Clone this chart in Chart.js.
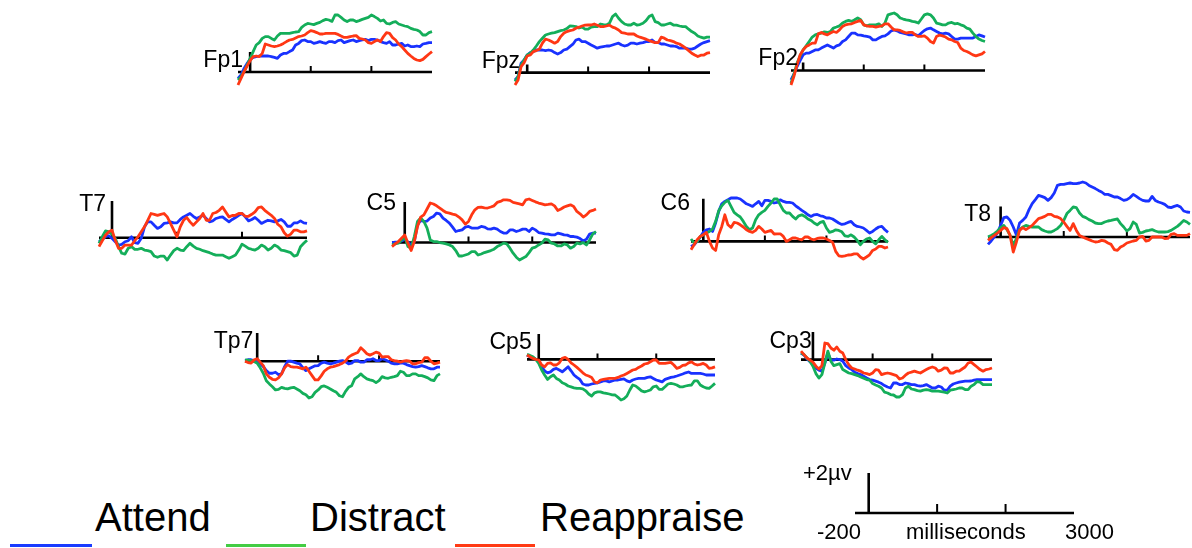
<!DOCTYPE html>
<html>
<head>
<meta charset="utf-8">
<script src="https://cdn.jsdelivr.net/npm/chart.js@4.4.1/dist/chart.umd.min.js"></script>
<style>
  body { margin: 0; width: 1192px; height: 548px; background: #fff; position: relative; overflow: hidden;
         font-family: "Liberation Sans", Arial, Helvetica, sans-serif; color: #000; }
  canvas { position: absolute; }
  .txt { position: absolute; white-space: nowrap; line-height: 1; }
  .swatch { position: absolute; height: 3px; }
</style>
</head>
<body>
<script>
// sample times (ms), one value every 50 ms
const times = [-200,-150,-100,-50,0,50,100,150,200,250,300,350,400,450,500,550,600,650,700,750,800,850,900,950,1000,1050,1100,1150,1200,1250,1300,1350,1400,1450,1500,1550,1600,1650,1700,1750,1800,1850,1900,1950,2000,2050,2100,2150,2200,2250,2300,2350,2400,2450,2500,2550,2600,2650,2700,2750,2800,2850,2900,2950,3000];
const tickTimes = [1000, 2000];

// grand-average amplitudes (µV) per electrode and condition
const fp1Attend     = [-0.32,-0.15,0.18,0.43,0.63,0.73,0.77,0.8,0.8,0.8,0.8,0.77,0.73,0.68,0.85,0.93,0.93,1.02,1.1,1.35,1.43,1.57,1.6,1.52,1.52,1.43,1.47,1.52,1.47,1.43,1.52,1.52,1.47,1.57,1.6,1.47,1.52,1.57,1.6,1.52,1.57,1.6,1.63,1.57,1.63,1.63,1.6,1.52,1.47,1.43,1.52,1.35,1.35,1.4,1.43,1.3,1.35,1.27,1.27,1.3,1.27,1.4,1.43,1.47,1.47];
const fp1Distract   = [-0.4,-0.23,0.02,0.35,0.68,1.02,1.35,1.47,1.68,1.77,1.77,1.68,1.6,1.8,1.93,1.93,1.93,1.93,1.97,2.0,2.02,2.23,2.35,2.43,2.4,2.37,2.43,2.48,2.57,2.63,2.6,2.53,2.85,2.85,2.73,2.6,2.52,2.6,2.6,2.52,2.57,2.63,2.68,2.73,2.85,2.77,2.68,2.55,2.6,2.43,2.4,2.48,2.52,2.4,2.35,2.3,2.27,2.18,2.13,2.1,2.02,1.85,1.85,1.97,2.02];
const fp1Reappraise = [-0.65,-0.32,0.02,0.3,0.57,0.77,0.8,0.77,0.93,1.4,1.35,1.3,1.27,1.3,1.35,1.43,1.52,1.6,1.63,1.7,1.77,1.8,1.85,1.97,2.07,2.03,1.97,1.9,1.9,1.93,1.93,1.93,1.93,1.88,1.8,1.73,1.73,1.77,1.8,1.82,1.68,1.65,1.6,1.47,1.43,1.52,1.6,1.52,1.77,1.97,1.93,1.72,1.6,1.4,1.27,1.1,0.93,0.8,0.68,0.6,0.57,0.63,0.77,0.9,1.02];

const fpzAttend     = [-0.37,-0.2,0.47,0.63,0.88,1.0,1.05,1.13,1.13,1.13,1.1,1.13,1.1,1.0,0.93,1.0,1.13,1.17,1.3,1.42,1.63,1.67,1.55,1.55,1.47,1.38,1.3,1.22,1.27,1.3,1.33,1.33,1.38,1.43,1.47,1.38,1.33,1.37,1.47,1.47,1.43,1.47,1.5,1.55,1.55,1.63,1.5,1.5,1.43,1.43,1.38,1.33,1.33,1.3,1.22,1.22,1.22,1.17,1.17,1.22,1.33,1.43,1.5,1.55,1.6];
const fpzDistract   = [-0.45,-0.2,0.38,0.63,0.88,0.97,1.13,1.33,1.55,1.72,1.88,1.93,1.97,2.0,2.05,2.1,2.13,2.2,2.33,2.32,2.3,2.23,2.27,2.17,2.17,2.27,2.3,2.3,2.43,2.4,2.38,2.47,2.8,2.93,2.72,2.55,2.43,2.38,2.38,2.47,2.38,2.4,2.47,2.6,2.8,2.88,2.55,2.5,2.38,2.38,2.43,2.47,2.38,2.37,2.33,2.3,2.3,2.17,2.05,1.97,1.83,1.77,1.72,1.77,1.77];
const fpzReappraise = [-0.62,-0.37,0.3,0.5,0.83,0.88,1.05,1.1,1.17,1.47,1.67,1.63,1.55,1.47,1.55,1.8,1.97,2.05,2.1,2.13,2.22,2.27,2.33,2.37,2.38,2.38,2.43,2.37,2.3,2.3,2.33,2.37,2.27,2.22,2.13,2.0,1.97,1.93,1.93,1.93,1.83,1.77,1.72,1.67,1.6,1.55,1.5,1.5,1.77,1.72,1.63,1.6,1.55,1.47,1.43,1.33,1.22,1.1,0.97,0.88,0.8,0.87,0.88,0.97,1.0];

const fp2Attend     = [-0.47,-0.17,0.2,0.5,0.78,0.87,0.87,0.95,1.03,1.03,1.12,1.2,1.28,1.2,1.12,1.23,1.28,1.45,1.53,1.7,1.87,1.87,1.78,1.77,1.73,1.7,1.67,1.53,1.53,1.62,1.7,1.73,1.83,1.97,2.03,1.98,1.9,1.87,1.83,1.78,1.78,1.8,1.73,1.87,2.0,2.08,2.12,2.03,1.95,1.87,1.83,1.87,1.83,1.7,1.57,1.57,1.62,1.62,1.62,1.62,1.62,1.7,1.78,1.73,1.67];
const fp2Distract   = [-0.63,-0.17,0.37,0.73,1.03,1.23,1.45,1.67,1.78,1.83,1.87,1.93,1.9,1.95,2.12,2.17,2.23,2.37,2.45,2.5,2.45,2.53,2.62,2.53,2.28,2.23,2.28,2.28,2.28,2.33,2.2,2.37,2.78,2.83,2.87,2.78,2.62,2.57,2.53,2.5,2.45,2.43,2.37,2.57,2.78,2.83,2.78,2.62,2.37,2.33,2.28,2.28,2.37,2.4,2.33,2.35,2.28,2.23,2.12,2.07,1.87,1.7,1.57,1.5,1.45];
const fp2Reappraise = [-0.72,-0.27,0.28,0.78,1.03,1.2,1.28,1.37,1.37,1.83,1.9,1.83,1.78,1.87,1.95,1.9,2.03,2.2,2.28,2.32,2.33,2.4,2.45,2.5,2.28,2.23,2.2,2.2,2.17,2.2,2.23,2.33,2.33,2.17,2.03,2.03,2.0,1.93,1.87,1.9,1.9,1.78,1.7,1.7,1.73,1.62,1.45,1.37,1.7,1.77,1.73,1.67,1.57,1.53,1.45,1.4,1.12,1.0,0.95,0.87,0.78,0.73,0.78,0.83,0.95];

const t7Attend      = [-0.2,-0.07,0.05,0.1,-0.03,-0.2,-0.37,-0.33,-0.2,-0.15,0.05,-0.25,-0.28,-0.03,0.55,0.8,0.8,0.63,0.47,0.55,0.72,0.75,0.8,0.75,0.75,0.92,1.05,1.13,1.22,1.08,0.97,1.05,1.13,0.97,0.8,0.85,0.97,1.02,1.05,0.92,0.8,0.92,1.02,1.13,1.22,1.05,0.85,0.92,1.02,0.88,0.72,0.8,0.88,0.85,0.8,0.85,0.92,0.8,0.58,0.58,0.75,0.75,0.85,0.75,0.72];
const t7Distract    = [-0.28,0.05,0.35,0.3,0.18,-0.03,-0.45,-0.78,-0.82,-0.53,-0.45,-0.58,-0.58,-0.53,-0.62,-0.65,-0.7,-0.92,-0.98,-0.92,-0.92,-1.12,-0.87,-0.65,-0.53,-0.62,-0.65,-0.45,-0.28,-0.42,-0.53,-0.58,-0.65,-0.7,-0.75,-0.82,-0.87,-0.87,-0.87,-0.95,-1.03,-0.95,-0.87,-0.62,-0.32,-0.42,-0.53,-0.58,-0.62,-0.53,-0.37,-0.45,-0.62,-0.53,-0.37,-0.45,-0.62,-0.65,-0.7,-0.75,-0.92,-0.87,-0.45,-0.28,-0.12];
const t7Reappraise  = [-0.45,-0.15,0.13,0.3,0.38,-0.12,-0.53,-0.53,-0.37,-0.37,-0.37,-0.15,0.05,0.3,0.55,0.88,1.22,1.18,1.13,1.18,1.22,1.05,0.72,0.38,0.05,0.55,0.88,1.02,0.8,0.63,0.8,0.97,1.22,0.88,0.88,1.22,1.27,1.38,1.55,1.3,1.05,1.12,1.13,1.22,1.22,1.08,1.08,1.18,1.3,1.52,1.55,1.38,1.25,1.13,0.97,0.68,0.55,0.25,0.08,0.18,0.38,0.38,0.3,0.3,0.35];

const c5Attend      = [0,0.02,0.03,0.08,0.17,0.03,-0.12,0.05,0.88,1.1,1.05,1.07,1.22,1.3,1.47,1.43,1.22,1.1,0.97,0.77,0.55,0.6,0.63,0.77,0.8,0.72,0.72,0.72,0.8,0.77,0.68,0.67,0.72,0.67,0.55,0.47,0.47,0.63,0.63,0.55,0.6,0.67,0.67,0.55,0.72,0.63,0.5,0.47,0.43,0.42,0.38,0.38,0.47,0.43,0.38,0.37,0.3,0.3,0.27,0.2,0.08,0.17,0.42,0.47,0.47];
const c5Distract    = [-0.12,-0.07,-0.03,0.13,0.27,-0.2,-0.28,0.3,1.05,1.22,1.05,0.72,0.13,0.05,0.05,0,-0.03,-0.07,-0.12,-0.2,-0.4,-0.67,-0.67,-0.62,-0.57,-0.45,-0.45,-0.62,-0.57,-0.5,-0.45,-0.4,-0.33,-0.2,-0.12,-0.03,-0.07,-0.28,-0.53,-0.73,-0.87,-0.78,-0.7,-0.5,-0.28,-0.23,-0.12,-0.03,0.17,0.13,-0.03,-0.07,-0.17,-0.17,-0.07,-0.12,-0.28,-0.2,-0.03,-0.07,0,-0.12,0.13,0.43,0.55];
const c5Reappraise  = [-0.2,-0.07,0.05,0.22,0.38,-0.03,-0.4,0.05,0.8,1.27,1.38,1.67,1.97,1.92,1.83,1.72,1.6,1.5,1.47,1.42,1.38,1.27,1.13,0.92,1.05,1.38,1.63,1.75,1.77,1.73,1.72,1.77,1.83,2.0,2.05,2.13,2.13,2.1,2.0,1.97,1.93,1.88,2.13,2.17,2.1,2.03,1.97,1.93,1.88,1.9,1.93,1.83,1.6,1.67,1.77,1.83,1.88,1.8,1.55,1.43,1.27,1.38,1.55,1.6,1.67];

const c6Attend      = [-0.25,-0.17,0,0.22,0.45,0.58,0.62,0.5,0.92,1.5,1.88,2.0,2.08,2.17,2.17,2.17,2.12,2.0,1.88,1.82,1.75,1.88,2.0,1.78,2.05,2.05,2.0,1.92,1.95,2.08,2.0,1.95,1.95,1.92,1.78,1.67,1.55,1.45,1.33,1.25,1.33,1.35,1.28,1.25,1.17,1.17,1.12,1.02,0.92,0.85,0.88,0.95,1.0,0.83,0.75,0.72,0.67,0.55,0.42,0.5,0.62,0.72,0.75,0.58,0.45];
const c6Distract    = [0.12,-0.08,0,0.25,0.33,0.42,0.5,0.62,1.0,1.53,1.78,1.95,2.05,1.75,1.45,1.33,1.22,1.0,0.75,0.58,0.67,1.08,1.33,1.45,1.55,1.75,1.92,2.12,2.12,1.83,1.55,1.42,1.42,1.25,1.12,1.28,1.33,1.25,1.12,1.05,0.92,0.83,0.95,1.0,0.67,0.45,0.5,0.58,0.55,0.48,0.28,0.25,0.33,0.22,0.05,-0.17,0,0.12,0.17,0,-0.12,0.08,0.25,0.08,-0.05];
const c6Reappraise  = [-0.42,-0.17,0.08,0.25,0.33,0.45,0,-0.33,-0.45,0.33,0.75,1.33,0.83,0.7,0.95,0.92,0.83,0.72,0.58,0.5,0.45,0.55,0.75,0.62,0.45,0.5,0.55,0.37,0.38,0.38,0.25,0,0.08,0.17,0.17,0.12,0.08,0.22,0.22,0.12,0.08,0.15,0.17,0.17,0.12,0.05,-0.05,-0.5,-0.72,-0.75,-0.72,-0.68,-0.67,-0.62,-0.62,-0.78,-0.88,-0.78,-0.67,-0.45,-0.38,-0.25,-0.25,-0.33,-0.28];

const t8Attend      = [-0.37,-0.2,0,0.2,0.58,0.97,1.0,0.83,0.5,0.1,0.7,0.83,1.0,1.37,1.67,1.87,2.08,2.03,1.97,1.83,1.97,2.2,2.58,2.63,2.63,2.67,2.7,2.67,2.67,2.7,2.75,2.7,2.58,2.5,2.42,2.33,2.25,2.13,2.13,2.07,2.0,2.0,1.92,1.83,1.87,1.97,2.13,2.03,1.92,1.83,1.8,1.8,2.03,1.83,1.75,1.7,1.63,1.5,1.47,1.53,1.58,1.5,1.3,1.25,1.23];
const t8Distract    = [0,0.08,0.17,0.3,0.47,0.58,0.37,0.08,-0.42,-0.08,0.37,0.5,0.58,0.53,0.5,0.5,0.5,0.37,0.3,0.25,0.25,0.33,0.42,0.58,0.83,1.17,1.33,1.5,1.47,1.2,1.03,0.97,0.87,0.8,0.7,0.67,0.67,0.75,0.8,0.83,0.87,0.9,0.67,0.5,0.3,0.42,0.75,0.63,0.2,0.23,0.3,0.33,0.37,0.3,0.25,0.25,0.25,0.27,0.33,0.43,0.53,0.67,0.83,0.75,0.63];
const t8Reappraise  = [-0.17,-0.03,0.08,0.2,0.33,0.47,0.42,0.08,-0.75,-0.25,0.33,0.47,0.37,0.47,0.58,0.75,0.92,0.97,1.03,1.13,1.13,1.03,1.0,0.92,0.75,0.53,0.33,0.67,0.33,0.07,0,-0.07,-0.13,-0.2,-0.25,-0.23,-0.17,-0.2,-0.3,-0.37,-0.63,-0.67,-0.5,-0.42,-0.3,-0.25,-0.2,-0.17,0,0.03,-0.2,-0.17,0,0,0,0,-0.08,-0.07,0.13,0.17,0.08,0.08,0.08,0.08,0.17];

const tp7Attend     = [0.03,0.07,0.07,0.03,0,-0.13,-0.27,-0.47,-0.6,-0.6,-0.55,-0.67,-0.63,-0.27,0,0,-0.05,-0.1,-0.13,-0.33,-0.47,-0.38,-0.3,-0.23,-0.22,-0.1,-0.05,-0.1,-0.13,-0.1,-0.05,0,0.03,-0.03,-0.13,-0.1,0.03,0.03,-0.05,-0.05,0.07,0.07,0.12,0.03,0.03,0.12,0.07,0,-0.1,-0.13,-0.13,-0.1,-0.1,-0.17,-0.22,-0.27,-0.3,-0.27,-0.22,-0.27,-0.33,-0.38,-0.38,-0.3,-0.3];
const tp7Distract   = [0.07,0.05,0.03,-0.02,-0.1,-0.33,-0.6,-0.97,-1.13,-1.27,-1.43,-1.4,-1.3,-1.35,-1.38,-1.33,-1.3,-1.38,-1.47,-1.6,-1.67,-1.83,-1.77,-1.55,-1.43,-1.27,-1.23,-1.3,-1.38,-1.47,-1.55,-1.72,-1.77,-1.5,-1.3,-1.22,-0.88,-0.77,-0.63,-0.77,-0.88,-0.93,-0.97,-1.07,-0.97,-0.77,-0.83,-0.85,-0.8,-0.77,-0.72,-0.5,-0.55,-0.72,-0.72,-0.63,-0.63,-0.72,-0.72,-0.77,-0.83,-0.93,-0.97,-0.72,-0.63];
const tp7Reappraise = [0,-0.07,-0.1,0.07,0.12,-0.05,-0.22,-0.63,-0.8,-0.9,-0.93,-0.83,-0.63,-0.33,-0.17,-0.27,-0.3,-0.3,-0.33,-0.38,-0.3,-0.5,-0.72,-0.93,-0.93,-0.73,-0.5,-0.38,-0.3,-0.27,-0.22,-0.17,-0.1,0,0.2,0.3,0.37,0.43,0.67,0.53,0.37,0.3,0.37,0.45,0.4,0.2,0.23,0.23,0.07,0.03,0,-0.05,0,0.03,0,-0.13,-0.13,-0.07,-0.05,0.17,0.17,0,-0.13,-0.1,-0.05];

const cp5Attend     = [0.22,0.13,0.1,0,-0.12,-0.37,-0.57,-0.67,-0.62,-0.5,-0.45,-0.53,-0.62,-0.5,-0.37,-0.57,-0.78,-0.9,-1.0,-1.23,-1.28,-1.28,-1.23,-1.2,-1.17,-1.12,-1.07,-1.07,-1.12,-1.08,-1.03,-1.03,-1.0,-0.97,-1.07,-1.12,-1.03,-0.98,-0.95,-0.95,-0.95,-0.9,-0.87,-0.95,-1.03,-1.07,-1.12,-1.0,-0.95,-0.9,-0.87,-0.83,-0.78,-0.73,-0.67,-0.63,-0.7,-0.7,-0.7,-0.7,-0.73,-0.78,-0.78,-0.78,-0.78];
const cp5Distract   = [0.25,0.2,0.13,0,-0.2,-0.53,-0.78,-1.0,-0.87,-0.78,-0.95,-1.03,-1.17,-1.23,-1.33,-1.37,-1.42,-1.45,-1.45,-1.47,-1.57,-1.73,-1.83,-1.67,-1.62,-1.62,-1.67,-1.7,-1.73,-1.77,-1.78,-1.9,-2.03,-1.97,-1.83,-1.53,-1.28,-1.33,-1.45,-1.57,-1.62,-1.58,-1.53,-1.37,-1.33,-1.5,-1.5,-1.37,-1.23,-1.2,-1.23,-1.28,-1.37,-1.37,-1.33,-1.3,-1.28,-1.07,-1.07,-1.28,-1.37,-1.43,-1.45,-1.33,-1.2];
const cp5Reappraise = [0.22,0.13,0.05,0,-0.03,-0.28,-0.37,-0.2,-0.17,-0.28,-0.28,-0.17,0.05,0.1,0,-0.17,-0.28,-0.4,-0.53,-0.67,-0.78,-0.83,-0.9,-1.13,-1.17,-1.03,-1.0,-0.97,-0.95,-0.95,-0.95,-0.9,-0.83,-0.78,-0.7,-0.62,-0.53,-0.5,-0.4,-0.33,-0.23,-0.2,-0.12,-0.03,-0.03,-0.2,-0.2,-0.2,-0.17,-0.15,-0.28,-0.45,-0.4,-0.3,-0.28,-0.17,-0.12,-0.23,-0.28,-0.25,-0.2,-0.28,-0.45,-0.42,-0.37];

const cp3Attend     = [0.33,0.23,0.03,-0.1,-0.25,-0.42,-0.53,-0.58,-0.17,0.33,-0.03,-0.03,0.03,0,-0.08,-0.3,-0.42,-0.5,-0.63,-0.7,-0.75,-0.83,-0.92,-1.0,-1.03,-1.08,-1.13,-1.2,-1.3,-1.37,-1.42,-1.17,-1.17,-1.25,-1.25,-1.17,-1.2,-1.25,-1.25,-1.3,-1.33,-1.3,-1.25,-1.33,-1.42,-1.42,-1.33,-1.37,-1.53,-1.53,-1.33,-1.22,-1.17,-1.13,-1.1,-1.08,-1.08,-1.07,-1.03,-1.0,-1.0,-1.0,-1.0,-1.0,-1.0];
const cp3Distract   = [0.33,0.25,0.08,-0.08,-0.33,-0.7,-0.92,-0.75,-0.17,0.42,-0.08,-0.3,-0.25,-0.2,-0.5,-0.58,-0.67,-0.7,-0.75,-0.8,-0.87,-0.93,-1.0,-1.03,-1.2,-1.27,-1.33,-1.42,-1.63,-1.67,-1.75,-1.77,-1.87,-1.87,-1.75,-1.42,-1.33,-1.47,-1.5,-1.55,-1.58,-1.53,-1.5,-1.53,-1.58,-1.58,-1.58,-1.6,-1.63,-1.67,-1.53,-1.5,-1.47,-1.42,-1.42,-1.5,-1.5,-1.33,-1.25,-1.1,-1.13,-1.25,-1.25,-1.25,-1.25];
const cp3Reappraise = [0.42,0.25,0.08,-0.03,-0.13,-0.33,-0.47,-0.3,0.83,0.8,0.58,0.47,0.63,0.42,0.33,0,-0.25,-0.42,-0.47,-0.53,-0.58,-0.67,-0.7,-0.75,-0.67,-0.5,-0.53,-0.75,-0.7,-0.67,-0.7,-0.75,-0.8,-0.97,-0.92,-0.78,-0.67,-0.63,-0.58,-0.63,-0.67,-0.58,-0.5,-0.42,-0.37,-0.42,-0.58,-0.53,-0.42,-0.43,-0.67,-0.67,-0.58,-0.58,-0.47,-0.37,-0.17,-0.13,-0.25,-0.37,-0.5,-0.58,-0.5,-0.47,-0.42];

const conditions = [
  { label: 'Attend',     color: '#1932ff', legendColor: '#1a3cff', order: 3 },
  { label: 'Distract',   color: '#14ae5a', legendColor: '#44cc44', order: 2 },
  { label: 'Reappraise', color: '#ff3714', legendColor: '#ff3a14', order: 1 }
];

// where each electrode sits on the page (left/right = -200 / 3000 ms, zero = 0 µV baseline)
const panels = [
  { name: 'Fp1', series: [fp1Attend, fp1Distract, fp1Reappraise], left: 238.3, right: 432.2,  zero: 72,    bar: 1.0,  labelRight: 243,   labelBase: 67 },
  { name: 'Fpz', series: [fpzAttend, fpzDistract, fpzReappraise], left: 514.5, right: 709.7,  zero: 72.7,  bar: 0.4,  labelRight: 520,   labelBase: 68.3 },
  { name: 'Fp2', series: [fp2Attend, fp2Distract, fp2Reappraise], left: 790.6, right: 984.8,  zero: 70.7,  bar: 0.4,  labelRight: 798,   labelBase: 65.7 },
  { name: 'T7',  series: [t7Attend, t7Distract, t7Reappraise],    left: 99.3,  right: 307.3,  zero: 237.7, bar: 1.85, labelRight: 106,   labelBase: 211.7 },
  { name: 'C5',  series: [c5Attend, c5Distract, c5Reappraise],    left: 392.2, right: 596.5,  zero: 242.7, bar: 2.02, labelRight: 396,   labelBase: 210 },
  { name: 'C6',  series: [c6Attend, c6Distract, c6Reappraise],    left: 691,   right: 888.4,  zero: 241.7, bar: 2.13, labelRight: 690,   labelBase: 210 },
  { name: 'T8',  series: [t8Attend, t8Distract, t8Reappraise],    left: 988.1, right: 1189.7, zero: 236.7, bar: 1.53, labelRight: 991,   labelBase: 221.7 },
  { name: 'Tp7', series: [tp7Attend, tp7Distract, tp7Reappraise], left: 245.1, right: 440.3,  zero: 360.7, bar: 1.4,  labelRight: 253.3, labelBase: 348.3 },
  { name: 'Cp5', series: [cp5Attend, cp5Distract, cp5Reappraise], left: 526.5, right: 714.7,  zero: 359.3, bar: 1.27, labelRight: 531.7, labelBase: 349.3 },
  { name: 'Cp3', series: [cp3Attend, cp3Distract, cp3Reappraise], left: 801.4, right: 992.4,  zero: 360,   bar: 1.38, labelRight: 811.7, labelBase: 348.3 }
];

const PX_PER_UV = 20;
const PAD = 4;

// baseline, +µV bar at time 0 and small ticks at 1 s / 2 s
const eegAxes = {
  id: 'eegAxes',
  beforeDatasetsDraw(chart, args, opts) {
    const { ctx, scales: { x, y } } = chart;
    const y0 = y.getPixelForValue(0);
    const xz = x.getPixelForValue(0);
    ctx.save();
    ctx.strokeStyle = '#000';
    ctx.lineWidth = 2.6;
    ctx.beginPath();
    ctx.moveTo(x.getPixelForValue(-200), y0);
    ctx.lineTo(x.getPixelForValue(3000), y0);
    ctx.moveTo(xz, y0);
    ctx.lineTo(xz, y.getPixelForValue(opts.bar));
    ctx.stroke();
    ctx.lineWidth = 2;
    ctx.beginPath();
    tickTimes.forEach(t => {
      const xt = x.getPixelForValue(t);
      ctx.moveTo(xt, y0);
      ctx.lineTo(xt, y0 - opts.tick);
    });
    ctx.stroke();
    ctx.restore();
  }
};

function addText(str, size, x, baseline, align) {
  const el = document.createElement('div');
  el.className = 'txt';
  el.textContent = str;
  el.style.fontSize = size + 'px';
  el.style.top = (baseline - size * 0.8465) + 'px';
  if (align === 'right') el.style.right = (1192 - x) + 'px';
  else el.style.left = x + 'px';
  document.body.appendChild(el);
}

function makeChart(left, right, zero, yMin, yMax, datasets, axisOpts) {
  const canvas = document.createElement('canvas');
  const w = Math.round(right - left + 2 * PAD);
  const h = Math.round((yMax - yMin) * PX_PER_UV + 2 * PAD);
  canvas.width = w; canvas.height = h;
  canvas.style.width = w + 'px'; canvas.style.height = h + 'px';
  canvas.style.left = (left - PAD) + 'px';
  canvas.style.top = (zero - yMax * PX_PER_UV - PAD) + 'px';
  document.body.appendChild(canvas);
  return new Chart(canvas, {
    type: 'line',
    data: { datasets },
    options: {
      responsive: false,
      animation: false,
      devicePixelRatio: 1,
      events: [],
      layout: { padding: PAD },
      scales: {
        x: { type: 'linear', min: -200, max: 3000, display: false },
        y: { type: 'linear', min: yMin, max: yMax, display: false }
      },
      plugins: { legend: { display: false }, tooltip: { enabled: false }, eegAxes: axisOpts }
    },
    plugins: [eegAxes]
  });
}

panels.forEach(p => {
  const all = p.series.flat().concat([0, p.bar]);
  const yMax = Math.max(...all) + 0.15;
  const yMin = Math.min(...all) - 0.15;
  const datasets = conditions.map((c, i) => ({
    label: c.label,
    data: times.map((t, j) => ({ x: t, y: p.series[i][j] })),
    borderColor: c.color,
    borderWidth: 2.8,
    borderJoinStyle: 'round',
    pointRadius: 0,
    tension: 0,
    clip: false,
    order: c.order
  }));
  makeChart(p.left, p.right, p.zero, yMin, yMax, datasets, { bar: p.bar, tick: 6 });
  addText(p.name, 23, p.labelRight, p.labelBase, 'right');
});

// calibration axes: 2 µV, -200 .. 3000 ms
makeChart(855.3, 1074.5, 513, -0.3, 2.2, [], { bar: 2, tick: 9 });
addText('+2µv', 22, 803, 481);
addText('-200', 22, 817, 540);
addText('milliseconds', 22, 906, 540);
addText('3000', 22, 1065, 540);

// condition key
const keyPos = [
  { line: [10, 92],   text: 95 },
  { line: [226, 306], text: 310 },
  { line: [455, 535], text: 540 }
];
conditions.forEach((c, i) => {
  const sw = document.createElement('div');
  sw.className = 'swatch';
  sw.style.left = keyPos[i].line[0] + 'px';
  sw.style.width = (keyPos[i].line[1] - keyPos[i].line[0]) + 'px';
  sw.style.top = '544px';
  sw.style.background = c.legendColor;
  document.body.appendChild(sw);
  addText(c.label, 40, keyPos[i].text, 531);
});
</script>
</body>
</html>
